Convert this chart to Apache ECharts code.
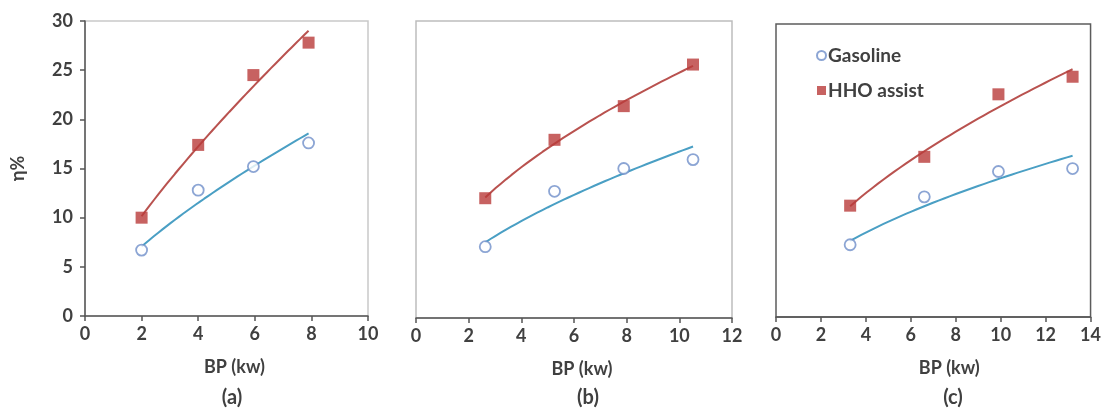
<!DOCTYPE html>
<html>
<head>
<meta charset="utf-8">
<script src="https://cdn.jsdelivr.net/npm/echarts@6/dist/echarts.min.js"></script>
<style>
  html, body { margin: 0; padding: 0; background: #fff; }
  #chart { width: 1104px; height: 412px; }
</style>
</head>
<body>
<div id="chart"></div>
<script>
// data
const bpA = [2, 4, 5.95, 7.9];
const gasolineA = [6.7, 12.8, 15.2, 17.6];
const hhoA = [10.0, 17.4, 24.5, 27.8];

const bpB = [2.63, 5.26, 7.89, 10.52];
const gasolineB = [7.2, 12.8, 15.1, 16.0];
const hhoB = [12.1, 18.0, 21.4, 25.6];

const bpC = [3.3, 6.6, 9.9, 13.2];
const gasolineC = [7.4, 12.3, 14.9, 15.2];
const hhoC = [11.4, 16.4, 22.8, 24.6];

const xMaxes = [10, 12, 14];
const panelLabels = ['(a)', '(b)', '(c)'];

const FONT = 'Lato';
const TEXT = '#404040';
const AXIS = '#555';
const RED = '#b93b3a';
const RED_LINE = '#b9524f';
const BLUE = '#6f8fc9';
const BLUE_LINE = '#4a9fc4';

// power trendline (least squares in log-log), like the spreadsheet fit
const powerFit = (xs, ys) => {
  const lx = xs.map(Math.log), ly = ys.map(Math.log);
  const mx = lx.reduce((s, v) => s + v, 0) / lx.length;
  const my = ly.reduce((s, v) => s + v, 0) / ly.length;
  let sxy = 0, sxx = 0;
  lx.forEach((v, i) => { sxy += (v - mx) * (ly[i] - my); sxx += (v - mx) * (v - mx); });
  const b = sxy / sxx, a = Math.exp(my - b * mx);
  const x0 = xs[0], x1 = xs[xs.length - 1];
  const pts = [];
  for (let i = 0; i <= 40; i++) {
    const x = x0 + (x1 - x0) * i / 40;
    pts.push([x, a * Math.pow(x, b)]);
  }
  return pts;
};

const panels = [
  { bp: bpA, gas: gasolineA, hho: hhoA },
  { bp: bpB, gas: gasolineB, hho: hhoB },
  { bp: bpC, gas: gasolineC, hho: hhoC }
];

const chart = echarts.init(document.getElementById('chart'));

const grids = [
  { left: 85, top: 21, width: 283, height: 295, show: true, borderColor: '#c9c9c9', borderWidth: 1.5 },
  { left: 416, top: 21, width: 316, height: 297, show: true, borderColor: '#bdbdbd', borderWidth: 1.5 },
  { left: 776, top: 24, width: 317, height: 293, show: true, borderColor: '#5c5c5c', borderWidth: 1.5 }
];

// the axis titles sit a little right of each panel's centre
const nameShift = [16, 16, 32];

const xAxes = xMaxes.map((max, i) => ({
  type: 'value',
  gridIndex: i,
  min: 0,
  max: max,
  interval: 2,
  name: 'BP (kw)',
  nameLocation: 'middle',
  nameGap: 42,
  nameTextStyle: { fontFamily: FONT, fontSize: 18, fontWeight: 'bold', color: TEXT, padding: [0, 0, 0, nameShift[i]] },
  axisLine: { show: true, lineStyle: { color: AXIS, width: 1.5 } },
  axisTick: { show: true, length: 5, lineStyle: { color: AXIS, width: 1.5 } },
  axisLabel: { fontFamily: FONT, fontSize: 18, fontWeight: 'bold', color: TEXT, margin: 9 },
  splitLine: { show: false }
}));

const yAxes = [0, 1, 2].map(i => ({
  type: 'value',
  gridIndex: i,
  min: 0,
  max: 30,
  interval: 5,
  name: i === 0 ? 'η%' : '',
  nameLocation: 'middle',
  nameRotate: 90,
  nameGap: 58,
  nameTextStyle: { fontFamily: FONT, fontSize: 18, fontWeight: 'bold', color: TEXT },
  axisLine: { show: i === 0, lineStyle: { color: AXIS, width: 1.5 } },
  axisTick: { show: i === 0, length: 5, lineStyle: { color: AXIS, width: 1.5 } },
  axisLabel: { show: i === 0, fontFamily: FONT, fontSize: 18, fontWeight: 'bold', color: TEXT, margin: 12 },
  splitLine: { show: false }
}));

const series = [];
panels.forEach((p, i) => {
  series.push({
    name: 'Gasoline fit',
    type: 'line',
    xAxisIndex: i, yAxisIndex: i,
    data: powerFit(p.bp, p.gas),
    showSymbol: false,
    lineStyle: { color: BLUE_LINE, width: 2 },
    z: 2
  });
  series.push({
    name: 'HHO assist fit',
    type: 'line',
    xAxisIndex: i, yAxisIndex: i,
    data: powerFit(p.bp, p.hho),
    showSymbol: false,
    lineStyle: { color: RED_LINE, width: 2 },
    z: 2
  });
  series.push({
    name: 'Gasoline',
    type: 'scatter',
    xAxisIndex: i, yAxisIndex: i,
    data: p.bp.map((x, k) => [x, p.gas[k]]),
    symbol: 'circle',
    symbolSize: 11,
    itemStyle: { color: '#fff', borderColor: BLUE, borderWidth: 1.8 },
    z: 3
  });
  series.push({
    name: 'HHO assist',
    type: 'scatter',
    xAxisIndex: i, yAxisIndex: i,
    data: p.bp.map((x, k) => [x, p.hho[k]]),
    symbol: 'rect',
    symbolSize: 12,
    itemStyle: { color: RED },
    z: 3
  });
});

const option = {
  backgroundColor: '#fff',
  animation: false,
  grid: grids,
  xAxis: xAxes,
  yAxis: yAxes,
  legend: {
    data: [
      { name: 'Gasoline', icon: 'circle' },
      { name: 'HHO assist', icon: 'rect' }
    ],
    orient: 'vertical',
    left: 811,
    top: 41,
    itemGap: 16,
    itemWidth: 9,
    itemHeight: 9,
    textStyle: { fontFamily: FONT, fontSize: 19, fontWeight: 'bold', color: TEXT, padding: [0, 0, 0, -3] }
  },
  graphic: panelLabels.map((t, i) => ({
    type: 'text',
    x: [232, 588, 953][i],
    y: 398,
    style: {
      text: t,
      font: 'bold 20px ' + FONT,
      fill: TEXT,
      textAlign: 'center',
      textVerticalAlign: 'middle'
    }
  })),
  series: series
};

chart.setOption(option);
</script>
</body>
</html>
